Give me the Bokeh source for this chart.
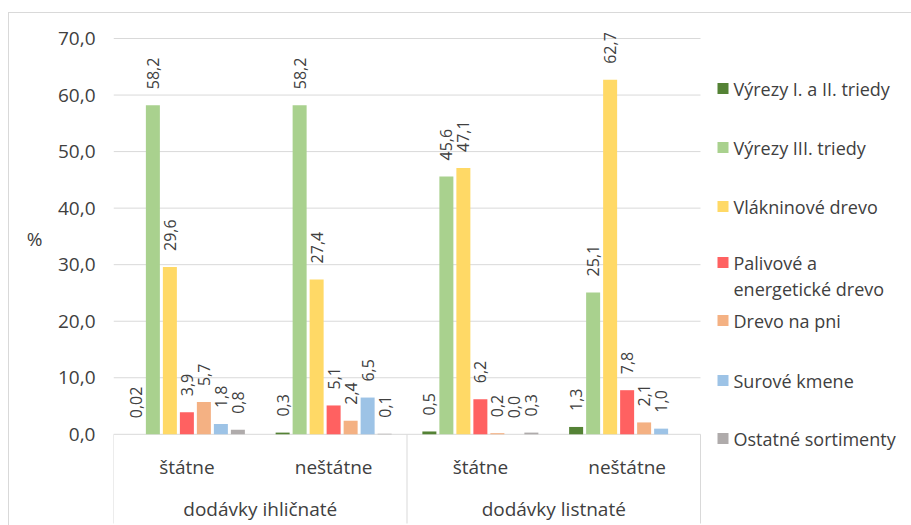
import math
from bokeh.plotting import figure
from bokeh.models import Range1d, FixedTicker, LinearAxis
from bokeh.core.properties import value
from bokeh.embed import file_html
from bokeh.resources import INLINE

# ---------------- data ----------------
groups = ["dodávky ihličnaté", "dodávky listnaté"]
subcats = ["štátne", "neštátne", "štátne", "neštátne"]
series_names = [
    "Výrezy I. a II. triedy",
    "Výrezy III. triedy",
    "Vlákninové drevo",
    "Palivové a\nenergetické drevo",
    "Drevo na pni",
    "Surové kmene",
    "Ostatné sortimenty",
]
series_colors = ["#548235", "#A9D18E", "#FFD966", "#FF6161", "#F4B183", "#9DC3E6", "#AFABAB"]
v_vyrezy_1_2 = [0.02, 0.3, 0.5, 1.3]
v_vyrezy_3 = [58.2, 58.2, 45.6, 25.1]
v_vlakninove = [29.6, 27.4, 47.1, 62.7]
v_palivove = [3.9, 5.1, 6.2, 7.8]
v_drevo_pni = [5.7, 2.4, 0.2, 2.1]
v_surove = [1.8, 6.5, 0.0, 1.0]
v_ostatne = [0.8, 0.1, 0.3, None]
y_ticks = [0, 10, 20, 30, 40, 50, 60, 70]
y_unit = "%"
series_values = [v_vyrezy_1_2, v_vyrezy_3, v_vlakninove, v_palivove, v_drevo_pni, v_surove, v_ostatne]

# ---------------- layout ----------------
W, H = 911, 525
FL = 113            # frame left (px)
X_PX = 146.75       # px per category
Y0 = 433.8          # px (from top) of value 0
Y_PX = 5.654        # px per unit
FONT = "Open Sans"
TXT = "#404040"
GRID = "#D9D9D9"

def fx(px):
    return (px - FL) / X_PX

def fy(py):
    return (Y0 - py) / Y_PX

def fmt(v):
    s = f"{v:.1f}" if round(v, 1) == v else f"{v:.2f}"
    return s.replace(".", ",")

p = figure(width=W, height=H, output_backend="svg", toolbar_location=None,
           x_range=Range1d(0, (W - FL) / X_PX),
           y_range=Range1d(-(H - Y0) / Y_PX, Y0 / Y_PX),
           x_axis_location=None, min_border_left=FL, min_border_right=0,
           min_border_top=0, min_border_bottom=0)
p.outline_line_color = None
p.xgrid.visible = False
p.ygrid.visible = False
p.background_fill_color = None
p.border_fill_color = None
p.styles = {
    "background-color": "white",
    "background-image": "linear-gradient(#D9D9D9, #D9D9D9), linear-gradient(#D9D9D9, #D9D9D9)",
    "background-size": "1px 100%, 100% 1px",
    "background-position": "8px 12px, 8px 12px",
    "background-repeat": "no-repeat",
}

# y axis
ya = p.yaxis[0]
ya.ticker = FixedTicker(ticks=y_ticks)
ya.major_label_overrides = {t: fmt(float(t)) for t in y_ticks}
ya.axis_line_color = None
ya.major_tick_line_color = None
ya.minor_tick_line_color = None
ya.major_tick_out = 0
ya.major_tick_in = 0
ya.major_label_standoff = 18
ya.major_label_text_font = FONT
ya.major_label_text_font_size = "19px"
ya.major_label_text_color = TXT

# unit label as an outer axis
unit_pos = round(fy(238), 2)
ua = LinearAxis(ticker=FixedTicker(ticks=[unit_pos]), major_label_overrides={unit_pos: y_unit},
                axis_line_color=None, major_tick_line_color=None, minor_tick_line_color=None,
                major_tick_out=0, major_tick_in=0, major_label_standoff=12,
                major_label_text_font=FONT, major_label_text_font_size="19px",
                major_label_text_color=TXT)
p.add_layout(ua, "left")

n_cat = len(subcats)
# gridlines (incl. axis line at 0)
p.segment(x0=[0] * len(y_ticks), x1=[n_cat] * len(y_ticks), y0=y_ticks, y1=y_ticks,
          line_color=GRID, line_width=1)
# category separators
sep_x = [0, 2, 4]
p.segment(x0=sep_x, x1=sep_x, y0=[0] * 3, y1=[fy(523)] * 3, line_color=GRID, line_width=1)

BAR_STEP = 17 / X_PX
BAR_W = 14 / X_PX
n_ser = len(series_values)
for j, (vals, col) in enumerate(zip(series_values, series_colors)):
    xs = [i + 0.5 + (j - (n_ser - 1) / 2) * BAR_STEP for i in range(n_cat)]
    tops = [float("nan") if v is None else v for v in vals]
    p.vbar(x=xs, top=tops, bottom=0, width=BAR_W, fill_color=col, line_color=None)
    lx = [x for x, v in zip(xs, vals) if v is not None]
    ly = [v + 16 / Y_PX for v in vals if v is not None]
    lt = [fmt(v) for v in vals if v is not None]
    p.text(x=lx, y=ly, text=lt, angle=math.pi / 2, text_align="left", text_baseline="middle",
           text_font=value(FONT), text_font_size="16px", text_color=TXT)

# category labels
p.text(x=[i + 0.5 for i in range(n_cat)], y=[fy(466)] * n_cat, text=subcats,
       text_align="center", text_baseline="middle", text_font=value(FONT),
       text_font_size="19px", text_color=TXT)
p.text(x=[1, 3], y=[fy(508)] * 2, text=groups, text_align="center", text_baseline="middle",
       text_font=value(FONT), text_font_size="19px", text_color=TXT)

# legend
leg_y = [88, 147, 206, 262, 320, 380, 438]
p.scatter(x=[fx(722.5)] * n_ser, y=[fy(v) for v in leg_y], marker="square", size=11,
          fill_color=series_colors, line_color=None)
leg_text_y = []
leg_text = []
for name, yy in zip(series_names, leg_y):
    for k, line in enumerate(name.split("\n")):
        leg_text.append(line)
        leg_text_y.append(fy(yy + 26 * k))
p.text(x=[fx(733)] * len(leg_text), y=leg_text_y, text=leg_text, text_align="left",
       text_baseline="middle", text_font=value(FONT), text_font_size="18px", text_color=TXT)

open("out.html", "w").write(file_html(p, INLINE))
